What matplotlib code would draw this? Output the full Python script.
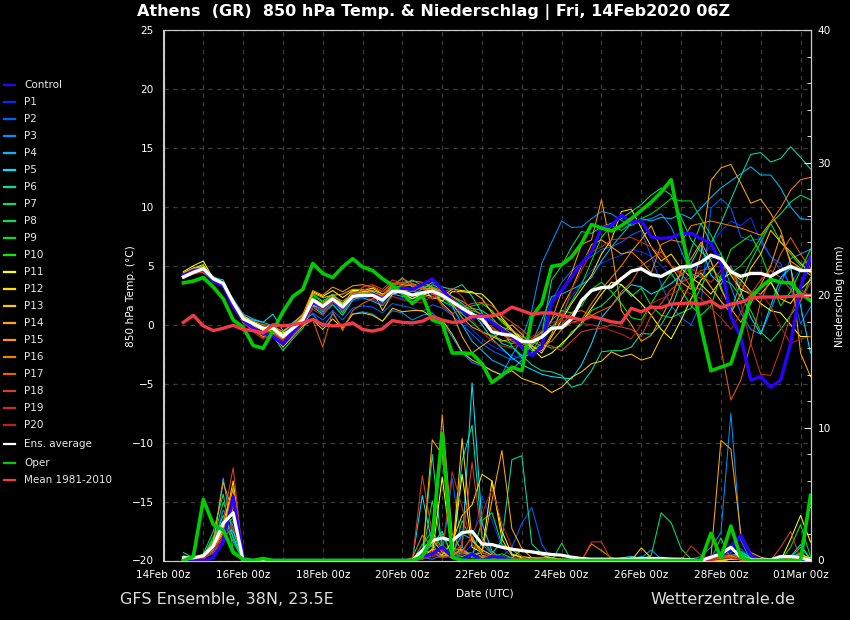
import numpy as np
import matplotlib
matplotlib.use("Agg")
import matplotlib.pyplot as plt
from matplotlib.lines import Line2D

names = ["Control"] + [f"P{i}" for i in range(1, 21)]
colors = ["#2a00ff", "#0030ff", "#0060ff", "#0090ff", "#00b8ff", "#00e0ff", "#00e0a0", "#00e070", "#00e050", "#00e020",
          "#00f000", "#ffff00", "#ffe000", "#ffc800", "#ffa800", "#ff9800", "#f08000", "#e86000", "#d84020", "#c83020", "#b82020"]

date_labels = ["14Feb 00z", "16Feb 00z", "18Feb 00z", "20Feb 00z", "22Feb 00z", "24Feb 00z", "26Feb 00z", "28Feb 00z", "01Mar 00z"]

t_control = [4.2,4.6,4.7,3.7,3.3,1.5,0.4,-0.3,-0.7,-1.0,-1.6,-0.6,0.3,1.9,1.5,2.2,1.4,2.4,2.5,2.6,2.2,2.9,3.1,3.0,3.4,3.9,3.0,2.0,1.2,0.6,
             0.8,0.2,-0.4,-1.0,-1.9,-2.6,-1.9,1.9,2.9,4.05,5.2,6.2,8.2,8.4,9.3,8.7,8.85,7.45,7.3,7.4,7.75,7.75,7.3,6.9,5.2,0.7,-1.05,-4.7,-4.4,-5.3,-4.7,-1.6,3.2,5.75]
t_members = [
 [4.2,4.5,4.6,3.7,3.3,1.6,0.3,-0.2,-0.6,-0.4,-1.5,-0.6,0.3,1.6,1.0,1.8,1.0,2.0,2.2,2.1,1.8,2.4,2.2,2.0,2.2,2.6,2.0,1.4,0.4,-0.4,
  -1.2,-1.8,-2.2,-2.6,-2.9,-2.4,-1.6,-0.2,1.0,2.4,3.6,4.6,5.2,5.6,5.9,6.4,6.2,5.8,5.0,4.2,3.6,4.4,5.4,6.8,7.9,8.8,8.4,9.1,7.0,5.8,4.6,3.4,4.8,5.4],
 [4.0,4.4,4.7,3.9,3.4,1.7,0.4,0.0,-0.4,-0.6,-1.2,-0.8,0.1,1.0,0.4,1.2,0.4,1.4,1.6,1.5,1.0,1.8,1.6,1.4,1.1,1.7,1.4,0.8,0.0,-0.8,
  -1.6,-2.2,-2.6,-3.0,-2.6,-1.8,-0.8,2.0,3.6,4.6,5.2,5.8,6.4,6.6,7.0,7.6,8.0,5.8,3.4,1.6,0.6,0.0,1.8,9.9,10.7,9.9,7.45,7.15,7.3,5.75,5.2,3.2,0.1,1.5],
 [3.9,4.3,4.6,4.0,3.6,2.0,0.6,0.2,-0.2,-0.8,-1.3,-0.4,0.4,0.9,-0.2,0.9,-0.2,0.9,1.1,0.9,0.3,1.2,1.0,0.4,0.8,1.0,0.2,-1.0,-2.4,-3.2,
  -3.5,-3.9,-4.2,-2.6,-1.2,1.2,5.2,7.0,8.8,8.25,8.3,9.0,9.6,9.4,8.85,8.4,8.85,9.0,9.4,8.3,6.3,4.35,4.0,5.6,6.0,3.2,1.0,-0.4,-0.8,1.2,3.4,5.6,6.0,6.4],
 [4.1,4.4,4.5,3.6,3.4,2.2,0.9,0.5,0.2,-0.1,-0.8,0.2,0.8,1.9,1.2,2.0,1.2,2.2,2.3,2.0,1.6,2.6,2.4,2.6,3.0,3.1,2.6,1.6,0.0,-1.4,
  -2.2,-3.0,-3.4,-3.8,-3.0,-1.6,0.4,2.4,2.6,3.0,3.4,4.0,5.4,6.6,7.6,8.6,9.0,8.8,9.1,9.0,9.4,9.0,9.9,10.8,11.6,12.2,12.8,13.4,12.7,12.7,11.6,10,9,8.9],
 [4.3,4.6,4.8,4.0,3.8,2.0,0.7,0.4,0.2,0.9,-0.5,0.0,0.9,1.7,1.1,2.0,1.5,2.2,2.6,2.5,1.9,2.9,2.7,2.2,2.6,3.4,3.0,2.4,1.8,1.1,
  0.0,-1.2,-2.0,-2.8,-3.4,-3.8,-4.2,-4.4,-4.5,-4.6,-3.4,-1.6,0.6,1.6,2.6,3.4,3.2,2.6,3.0,3.5,4.2,5.2,6.8,4.2,3.4,5.0,2.8,0.6,-0.8,1.6,4.0,4.8,1.6,-2.4],
 [4.2,4.7,4.6,3.8,3.2,1.7,0.5,-0.1,-0.8,-0.9,-2.2,-1.2,-0.3,1.5,0.9,1.7,0.8,2.1,2.4,2.4,2.2,3.2,4.0,3.2,3.0,3.6,3.2,3.0,3.4,2.4,
  1.0,-0.6,-1.6,-1.9,-2.6,-3.4,-3.9,-4.0,-4.3,-5.3,-5.05,-3.9,-2.3,-2.2,-2.2,-1.9,-0.75,-0.8,0.0,1.4,3.6,6.4,8.6,6.9,8.6,10.6,12.6,14.45,14.6,13.8,14.1,15.1,14.2,13.2],
 [4.4,4.8,5.0,3.8,3.4,1.6,0.2,-0.2,-0.6,-0.2,-1.0,-0.3,0.4,2.6,2.0,2.6,1.8,2.4,2.6,2.4,2.0,3.0,3.4,3.8,3.3,3.2,2.4,2.0,1.0,1.4,
  1.2,0.6,-0.4,-1.8,-2.8,-2.4,-0.8,3.8,5.0,6.6,7.9,7.75,8.3,8.6,9.0,9.6,10.2,11.0,11.6,11.0,9.1,7.2,6.2,5.4,3.2,1.2,3.6,5.4,7.0,8.6,9.4,10.4,11.0,10.6],
 [4.1,4.5,4.8,4.1,3.6,1.8,0.6,0.2,-0.2,-0.4,-0.9,-0.1,0.5,2.3,1.7,2.4,1.3,2.6,2.8,2.8,2.4,3.3,3.0,2.6,2.8,2.9,2.0,1.6,0.9,0.2,
  -0.6,-0.9,-1.3,-1.6,-1.4,-2.2,-1.6,-2.0,-1.8,-0.6,0.0,1.2,1.6,2.4,3.4,2.4,3.1,1.6,0.8,0.6,1.0,1.4,3.2,4.8,3.9,3.5,2.4,1.2,-0.6,-1.4,-0.4,0.8,2.0,4.0],
 [4.3,4.7,4.9,4.0,3.3,1.7,0.4,0.0,-0.6,-0.6,-1.3,-0.5,0.4,2.2,1.4,2.3,1.0,2.5,2.7,2.7,2.3,3.3,3.2,2.9,2.6,3.2,2.6,2.2,1.6,1.2,
  0.9,0.3,-0.2,-0.8,-1.6,-1.4,-0.6,-0.2,0.6,2.0,3.4,5.4,7.4,8.4,8.0,8.6,9.0,9.4,10.0,10.7,10.5,10.5,9.0,7.6,6.0,4.4,5.0,6.0,7.4,8.6,7.0,6.0,5.0,5.6],
 [4.2,4.6,4.6,3.8,3.5,1.9,0.6,0.2,-0.3,-0.3,-0.8,-0.2,0.6,2.5,1.9,2.5,1.7,2.7,2.8,2.6,2.4,3.1,3.0,2.8,3.2,3.0,2.3,1.7,1.3,1.6,
  1.8,1.2,0.2,-0.5,-1.2,-1.8,-1.0,0.4,1.2,1.0,1.6,3.0,3.6,2.8,1.8,0.6,0.4,1.8,3.2,4.4,3.0,1.6,0.8,1.6,4.2,6.4,7.0,7.6,6.0,3.8,1.6,2.8,4.6,6.4],
 [4.5,5.0,5.4,3.9,3.3,1.8,0.5,-0.1,-0.5,-0.4,-0.7,-0.4,0.6,2.8,2.4,2.9,2.3,2.9,2.9,3.1,2.6,3.0,2.6,2.2,2.6,2.4,2.0,2.8,2.8,2.7,
  2.6,1.8,0.6,-0.4,-1.2,-2.0,-2.8,-2.4,-1.6,-0.8,0.2,1.4,2.6,3.6,3.4,2.6,1.8,0.8,-0.4,-1.2,0.4,2.2,3.8,4.6,5.6,4.2,3.0,2.6,1.8,1.2,1.0,0.0,-1.0,-1.0],
 [4.3,4.8,5.1,3.8,3.4,2.0,0.8,0.2,-0.2,-0.7,-1.1,-0.5,0.2,1.6,1.6,2.2,1.8,2.8,2.8,2.9,1.2,2.6,2.8,3.1,3.3,2.2,2.4,3.0,2.9,2.8,
  2.2,1.0,0.4,-0.5,-1.4,-1.8,-2.4,-1.0,0.4,1.8,3.0,4.2,6.0,7.2,9.6,9.8,8.2,6.6,5.4,6.0,4.8,4.0,3.4,2.6,3.8,4.4,3.8,2.8,2.6,3.6,2.2,1.8,3.0,3.8],
 [4.2,4.6,4.7,3.6,3.3,1.5,0.2,-0.5,-1.0,-0.8,-1.9,-1.0,-0.1,0.4,-0.4,0.5,-0.3,0.9,1.0,0.8,0.3,1.4,1.1,1.2,1.2,0.6,0.4,-0.8,-2.3,-3.0,
  -3.4,-3.9,-4.3,-3.9,-4.55,-4.85,-5.15,-5.75,-5.3,-4.45,-4,-3.3,-3.1,-2.3,-2.7,-2.5,-3,-2.75,-1.05,0.4,2.0,3.6,4.4,3.2,2.0,1.0,2.6,4.8,6.0,8.0,7.0,6.2,5.2,4.4],
 [4.4,4.8,4.9,3.8,3.3,1.8,0.5,0.0,-0.4,-0.5,-1.2,-0.5,0.5,2.7,2.3,2.5,2.6,3.0,3.0,2.9,2.6,3.0,3.2,3.5,3.0,2.8,1.8,1.0,-1.0,-2.4,
  -1.8,-1.2,-0.6,0.0,-0.8,-1.8,-2.2,-0.8,1.4,3.0,5.0,6.8,7.2,6.6,6.0,6.2,7.2,8.4,6.4,5.0,3.6,3.0,6.0,12.25,13.3,13.6,12,10.3,10.65,9.45,8,5.2,-2.4,-4.4],
 [4.0,4.4,4.6,3.9,3.5,1.7,0.6,0.3,0.0,-0.1,-0.6,0.1,0.9,2.9,2.5,3.2,2.8,3.3,3.4,3.2,2.8,3.5,3.4,3.3,3.0,3.1,2.8,1.8,0.6,-0.2,
  -0.6,-1.0,-1.4,-1.2,-2.0,-1.4,-1.0,0.4,2.8,4.4,6.8,7.2,10.6,6.4,1.2,0.0,-1.4,-0.9,0.6,2.2,4.6,5.6,7.0,5.4,3.0,1.4,0.2,1.8,3.4,5.0,7.6,5.4,4.8,4.2],
 [4.1,4.5,4.4,3.7,3.6,2.1,0.7,0.1,-0.3,0.0,-0.9,-0.1,0.7,2.2,1.8,2.4,2.0,2.6,2.7,2.7,2.5,3.4,3.6,3.7,3.6,3.2,2.9,2.4,2.0,1.4,
  0.8,0.4,-0.2,-0.5,-1.0,-1.4,-1.8,-1.4,-0.4,0.2,0.4,1.8,3.0,4.0,5.0,6.2,5.4,4.4,6.8,7.2,7.0,8.4,8.6,8.8,8.6,8.4,8.2,7.9,7.6,8.7,9.9,11.4,12.3,12.5],
 [4.0,4.3,4.5,3.7,3.2,1.6,0.4,0.0,-0.7,-0.5,-1.1,-0.3,0.2,0.4,-1.9,1.1,-0.5,1.2,1.8,2.2,2.4,3.4,3.9,3.5,3.2,2.6,2.4,1.9,1.3,0.9,
  0.4,-0.2,-0.8,-1.4,-1.8,-1.2,-0.6,-0.4,0.0,1.0,1.2,0.8,1.2,1.6,2.8,3.6,5.0,5.6,6.2,5.0,4.4,3.2,3.0,2.2,-2.0,-6.4,-4.7,-1.6,2.0,4.0,6.0,7.4,6.0,4.8],
 [4.3,4.7,4.8,3.7,3.2,1.4,0.3,-0.4,-1.1,-0.6,-1.4,-0.7,0.1,1.8,1.3,2.1,1.2,2.3,3.2,3.4,3.0,3.8,3.5,3.4,3.0,2.8,1.6,0.9,1.5,1.8,
  1.9,1.6,0.8,0.2,-0.4,-1.2,-1.6,-1.8,-2.2,-1.4,-0.6,-0.4,-0.3,0.0,-0.2,-0.4,-1.0,0.8,1.8,3.0,3.6,4.0,4.6,4.8,5.4,4.6,3.4,2.6,3.8,4.6,4.0,3.0,2.0,3.6],
 [4.0,4.4,4.6,3.8,3.3,1.7,0.2,-0.6,-1.2,-0.8,-1.3,-0.4,0.2,1.3,0.8,1.9,1.5,2.7,2.9,3.3,2.8,3.6,3.3,3.0,2.5,2.2,2.7,3.1,2.4,1.0,
  0.2,-0.3,-0.8,-1.2,-1.6,-1.2,-0.9,-0.4,0.4,3.0,4.6,6.2,6.6,7.2,7.3,7.4,7.0,6.6,5.8,5.0,4.2,4.8,4.2,3.6,4.6,5.0,1.8,-1.6,-4.2,-4.3,-2.0,0.8,3.0,2.4],
 [4.1,4.4,4.5,3.9,3.4,1.5,0.3,-0.3,-0.8,-0.9,-1.4,-0.9,0.0,1.5,1.2,2.0,1.5,2.2,2.4,2.2,1.7,2.4,2.1,1.9,1.9,2.4,2.7,2.2,1.4,0.4,
  -0.6,-1.4,-1.8,-2.0,-1.4,-1.0,-0.5,0.2,0.4,0.2,0.1,0.0,-0.2,-0.5,-0.8,-1.2,0.0,1.8,2.2,2.6,3.0,2.6,2.2,1.4,0.6,-0.4,1.0,2.8,2.6,1.6,-0.2,-1.6,-1.2,-1.0],
]
t_avg = [4.05,4.45,4.75,3.9,3.5,1.9,0.5,0.1,-0.3,-0.3,-1.0,-0.3,0.4,2.1,1.55,2.2,1.5,2.4,2.5,2.5,2.1,2.85,2.8,2.5,2.7,2.85,2.5,1.95,1.4,0.9,
         0.5,-0.6,-0.8,-0.9,-1.4,-1.45,-1.05,-0.3,-0.25,0.5,2.05,2.9,3.15,3.2,3.9,4.55,4.75,4.25,4.1,4.55,4.9,4.95,5.3,5.9,5.6,4.5,4.1,4.35,4.35,4.1,4.6,4.95,4.6,4.6]
t_oper = [3.55,3.7,4.0,3.2,2.2,0.4,-0.2,-1.75,-2.0,-0.5,1.1,2.4,3.0,5.2,4.35,4.0,4.9,5.6,4.9,4.6,3.9,3.35,2.65,1.8,2.5,0.4,0.1,-2.4,-2.4,-2.45,
          -3.3,-4.9,-4.3,-3.6,-3.9,0.65,1.8,4.95,5.1,5.75,6.9,8.5,8.2,7.95,8.4,9.0,9.7,10.4,11.25,12.3,8.0,4.05,-0.2,-3.9,-3.6,-3.3,-0.75,2.35,3.2,3.85,3.6,3.55,2.65,2.05]
t_mean = [0.2,0.8,-0.1,-0.5,-0.3,-0.05,-0.4,-0.5,-0.7,0.0,-0.1,0.0,0.15,0.45,0.0,-0.1,-0.05,0.15,-0.4,-0.55,-0.35,0.35,0.2,0.15,0.3,0.7,0.4,0.2,0.25,0.7,
          0.7,0.75,0.95,1.5,1.2,0.9,1.0,1.0,0.8,0.6,0.4,0.7,0.5,0.25,0.15,1.4,1.1,1.5,1.45,1.75,1.8,1.85,1.75,2.0,1.45,1.75,1.9,2.25,2.35,2.35,2.35,2.4,2.45,2.5]

dry = [0] * 13
r_control = [0,0,0,.2,1.5,4.8,.2,0,0,0] + dry + [0,.3,.5,1,.3,0,.5,0,.3,.2, 0,0,0,0,0,0,0,0,0,0, 0,0,0,0,0,0,0,0,0,0, .3,.6,.8,1.9,.4,0,0,0,0,0,0]
r_members = [
 [0,0,.2,.5,1.2,3.0,.1,0,0,0] + dry + [0,.2,.3,.6,.2,.4,1.2,4.9,3.0,1.0, .3,.1,0,0,0,0,0,0,0,0, 0,0,0,0,0,0,0,0,0,0, .2,.5,1.2,2.0,.3,0,0,0,0,0,0],
 [0,0,.1,.8,1.8,2.4,.1,0,0,0] + dry + [0,.1,.6,.3,6.2,1.0,.3,.8,.4,.3, 1.0,2.8,4.0,1.25,0,0,0,0,0,0, 0,0,0,0,0,.1,.2,.1,0,0, .1,.4,.6,.9,.1,0,0,0,0,0,0],
 [0,.1,.3,1.0,3.8,2.6,.1,0,0,0] + dry + [0,.2,.1,.4,.2,.5,.6,1.2,.5,.2, .1,.2,.1,0,0,0,0,0,0,0, 0,0,0,.2,.8,.1,0,0,.1,.3, 1.0,2.1,11.1,1.5,0,0,0,0,0,0,0],
 [0,0,.2,1.2,6.2,1.6,.1,0,0,0] + dry + [0,.4,1.2,.3,.5,2.0,1.6,.6,.3,.1, .1,0,0,0,0,0,0,0,0,0, 0,0,.1,.3,.1,0,0,0,0,.1, .2,.3,.4,.1,0,0,0,.1,.2,.6,0],
 [.2,.1,.3,.8,2.6,2.2,0,0,0,0] + dry + [0,4.9,1.2,2.2,.3,1.0,13.4,2.8,.7,.1, .2,0,0,0,0,0,0,0,0,0, 0,.2,.3,.2,0,0,0,0,0,0, .1,.1,.4,.5,.1,0,0,.1,.3,1.2,.1],
 [.6,.2,.4,1.5,3.4,1.8,0,0,0,0] + dry + [0,.2,8.0,.6,.4,7.5,10.2,1.8,.5,1.5, 7.6,7.9,1.25,.5,0,0,0,0,0,0, 0,0,.2,.2,0,0,0,0,0,0, .1,.2,.3,.2,0,0,0,0,.1,.2,0],
 [.3,.2,.5,2.2,5.0,.8,0,0,0,0] + dry + [0,1.2,2.2,.9,.3,.6,.4,.2,.1,.2, .1,.1,0,0,.1,0,0,0,0,0, 0,0,0,.1,.4,3.6,2.85,.9,.1,0, 0,0,.1,.6,.2,0,0,0,0,0,0],
 [.1,.1,.4,1.6,4.4,2.4,0,0,0,0] + dry + [0,.3,4.5,1.2,.4,.8,.3,3.0,3.6,1.2, .8,.3,.1,0,0,1.3,0,0,0,0, 0,0,0,0,0,0,0,.1,.1,0, .1,1.7,.1,.7,.2,.1,0,0,.2,1.0,.1],
 [.2,.1,.3,1.8,3.0,1.4,0,0,0,0] + dry + [0,.2,.5,1.0,.2,3.0,1.5,.6,.3,.5, .2,.1,0,0,0,0,0,0,0,0, 0,0,0,0,0,0,0,0,0,0, 0,.1,.2,.4,0,0,0,0,1.0,2.7,.3],
 [0,0,.2,1.0,2.6,3.2,0,0,0,0] + dry + [0,.4,.8,2.0,.4,.3,.6,.3,.2,.1, .1,0,0,0,0,0,0,0,0,0, 0,0,0,0,0,0,0,0,0,0, 0,.1,.2,.3,0,0,0,0,0,0,0],
 [0,0,.2,.6,1.6,4.4,.1,0,0,0] + dry + [0,.2,.4,6.3,.4,6.5,1.0,.6,6.0,2.2, .5,.2,0,0,0,0,0,0,.1,0, 0,0,0,0,.1,.1,0,0,0,0, 0,0,.1,.1,0,0,0,0,1.6,3.4,1.4],
 [0,0,.3,.9,2.2,6.0,.1,0,0,0] + dry + [0,.1,.9,.4,1.4,3.4,4.2,6.5,6.0,1.6, .4,.3,.2,.2,.2,.1,.1,0,0,0, 0,0,0,0,0,0,0,0,0,0, 0,0,.1,.3,.1,0,0,0,0,.4,.2],
 [0,.1,.2,1.2,2.9,5.4,.1,0,0,0] + dry + [0,.3,1.6,.6,.2,9.2,1.5,.8,.4,.2, .2,.8,.6,.4,.2,.1,0,0,0,0, 0,0,0,.95,.2,0,0,.1,.1,0, 0,0,.1,.2,.1,0,0,0,.2,.5,.1],
 [0,0,.1,.9,2.4,4.8,.1,0,0,0] + dry + [0,.2,9.1,8.0,.9,.8,.4,.6,4.5,8.3, 2.4,.9,.2,.1,0,0,0,0,0,0, 0,0,0,0,0,0,0,0,0,0, .25,9.05,8.4,2.0,.6,.25,.1,0,0,0,0],
 [0,.1,.4,1.4,5.9,3.6,.1,0,0,0] + dry + [0,.8,.6,11.0,2.0,.7,1.8,.4,.2,.1, .1,.1,.1,.1,.1,0,0,0,0,0, 0,0,0,0,0,.1,0,0,0,0, 0,.2,.3,.2,0,0,0,0,.1,.2,0],
 [.1,.1,.3,.9,2.0,5.6,.1,0,0,0] + dry + [.2,1.9,1.0,.3,.5,.8,.4,.2,.3,.1, .1,.1,.1,0,0,0,0,0,1.25,.75, .2,0,0,0,0,0,0,0,0,0, 0,.2,.4,.1,0,0,0,0,.3,.2,0],
 [.1,.1,.2,1.1,1.6,4.2,.1,0,0,0] + dry + [0,.3,.6,.2,.4,.7,.2,.3,.2,.1, .1,.1,0,0,0,0,0,0,0,0, 0,0,0,0,0,0,0,0,0,0, .1,.2,.3,0,0,0,0,0,.3,.4,0],
 [.4,.1,.2,.7,3.0,7.0,.1,0,0,0] + dry + [0,6.4,2.0,.7,.5,1.2,7.4,1.6,.5,.3, .2,.1,0,0,0,0,0,0,0,0, 0,0,0,0,0,0,0,.1,.1,0, 0,.3,.2,.1,0,0,0,1.0,2.2,.1,0],
 [.3,.2,.2,.9,1.4,3.0,0,0,0,0] + dry + [0,.2,.4,.6,6.7,4.0,1.2,.6,.3,.2, .1,.1,.1,0,0,0,0,0,1.4,1.4, 0,0,0,0,0,0,0,0,1.1,.4, .1,.3,.5,.1,0,0,0,0,0,0,0],
 [.2,.1,.2,.6,1.8,2.6,0,0,0,0] + dry + [0,.1,.3,.2,.3,.5,2.0,3.5,5.4,2.8, 1.0,.3,0,0,0,0,0,0,0,0, 0,0,0,0,0,0,0,0,0,0, 0,.1,.2,.1,0,0,0,0,0,.1,0],
]
r_avg = [.2,.2,.35,1.1,2.8,3.6,0,0,0,0] + dry + [0,.75,1.5,1.7,1.5,2.1,2.2,1.25,1.2,1.0, .85,.75,.65,.55,.45,.4,.25,.15,.1,.1, .1,.1,.1,.12,.15,.15,.1,.1,.05,0, .25,.5,1.0,.25,.05,.05,.05,.3,.3,.2,0]
r_oper = [0,.3,4.6,2.7,2.3,.6,.1,0,.15,0] + dry + [0,.3,1.8,9.6,.25,0,0,0,0,0, 0,0,0,0,0,0,0,0,0,0, 0,0,0,0,0,0,0,0,0,0, 2.05,.2,2.6,.25,0,0,0,0,0,0,4.9]

FIRST_STEP = 0.5
STEP = 0.25


def days(values):
    return FIRST_STEP + STEP * np.arange(len(values))


plt.rcParams["font.family"] = "DejaVu Sans"
fig = plt.figure(figsize=(8.5, 6.2), dpi=100, facecolor="black")
ax = fig.add_axes([163.5 / 850, 1 - 560.5 / 620, 647 / 850, 530.5 / 620], facecolor="black")
ax2 = ax.twinx()
ax.set_zorder(1)
ax2.set_zorder(2)
ax2.patch.set_visible(False)

ax.set_xlim(0, 16.25)
ax.set_ylim(-20, 25)
ax2.set_ylim(0, 40)

ax.set_xticks(np.arange(0, 17, 2))
ax.set_xticklabels(date_labels, color="white", fontsize=7.6)
ax.set_xticks(np.arange(0, 17, 1), minor=True)
ax.set_yticks(np.arange(-20, 26, 5))
ax.tick_params(axis="both", which="both", length=0, colors="white", labelsize=7.6)
ax.tick_params(axis="x", pad=7)
ax.tick_params(axis="y", pad=7)
ax.grid(True, which="both", axis="both", color="#3c3c3c", lw=0.9, ls=(0, (3.5, 3.5)))
ax.set_axisbelow(True)

ax2.set_yticks(np.arange(0, 41, 10))
ax2.set_yticks(np.arange(0, 41, 2), minor=True)
ax2.tick_params(axis="y", which="major", direction="in", length=5, color="white", labelcolor="white", labelsize=7.6, pad=5)
ax2.tick_params(axis="y", which="minor", direction="in", length=3, color="white")
for a in (ax, ax2):
    for s in a.spines.values():
        s.set_color("#cccccc")
        s.set_linewidth(0.8)

# Precipitation on the right axis
for vals, c in zip(r_members, colors[1:]):
    ax2.plot(days(vals), vals, color=c, lw=0.75)
ax2.plot(days(r_control), r_control, color=colors[0], lw=2.4)
ax2.plot(days(r_avg), r_avg, color="white", lw=2.3)
ax2.plot(days(r_oper), r_oper, color="#00cc00", lw=2.6)

# Temperature on the left axis
for vals, c in zip(t_members, colors[1:]):
    ax.plot(days(vals), vals, color=c, lw=0.75)
ax.plot(days(t_control), t_control, color=colors[0], lw=2.4)
ax.plot(days(t_oper), t_oper, color="#00cc00", lw=2.6)
ax.plot(days(t_avg), t_avg, color="white", lw=2.4)
ax.plot(days(t_mean), t_mean, color="#f03a46", lw=2.4)

fig.text(434 / 850, 1 - 12 / 620, "Athens  (GR)  850 hPa Temp. & Niederschlag | Fri, 14Feb2020 06Z",
         color="white", fontsize=11.55, fontweight="bold", ha="center", va="center")
fig.text(131 / 850, 1 - 296 / 620, "850 hPa Temp. (°C)", color="white", fontsize=7.6, rotation=90, ha="center", va="center")
fig.text(840 / 850, 1 - 296 / 620, "Niederschlag (mm)", color="white", fontsize=7.6, rotation=90, ha="center", va="center")
fig.text(485 / 850, 1 - 593 / 620, "Date (UTC)", color="white", fontsize=7.6, ha="center", va="center")
fig.text(120 / 850, 1 - 600 / 620, "GFS Ensemble, 38N, 23.5E", color="#dddddd", fontsize=11.5, ha="left", va="center")
fig.text(650 / 850, 1 - 600 / 620, "Wetterzentrale.de", color="#dddddd", fontsize=11.5, ha="left", va="center")

legend_names = names + ["Ens. average", "Oper", "Mean 1981-2010"]
legend_colors = colors + ["white", "#00cc00", "#f03a46"]
legend_rows = [85 + 17 * i for i in range(21)] + [444, 463, 480]
for name, c, y in zip(legend_names, legend_colors, legend_rows):
    fy = 1 - y / 620
    fig.add_artist(Line2D([4 / 850, 15 / 850], [fy, fy], color=c, lw=1.6, transform=fig.transFigure))
    fig.text(24 / 850, fy, name, color="#e8e8e8", fontsize=7.5, ha="left", va="center")

fig.savefig("out.png", dpi=100, facecolor="black")
